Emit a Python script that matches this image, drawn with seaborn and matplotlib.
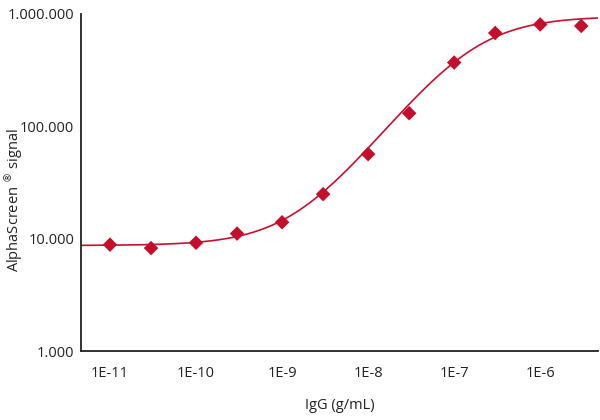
import numpy as np
import pandas as pd
import matplotlib
matplotlib.use("Agg")
import matplotlib.pyplot as plt
import matplotlib.ticker as mticker
import seaborn as sns

# Data
conc = [1e-11, 3e-11, 1e-10, 3e-10, 1e-9, 3e-9, 1e-8, 3e-8, 1e-7, 3e-7, 1e-6, 3e-6]
signal = [8850, 8250, 9200, 11100, 14000, 24900, 56500, 130600, 369000, 676000, 805000, 781000]

# 4-parameter logistic fit parameters (estimated from the drawn curve)
fit_bottom = 8700
fit_top = 950000
fit_ec50 = 1.6e-7
fit_hill = 1.0

x_ticks = [1e-11, 1e-10, 1e-9, 1e-8, 1e-7, 1e-6]
x_tick_labels = ["1E-11", "1E-10", "1E-9", "1E-8", "1E-7", "1E-6"]
y_ticks = [1e3, 1e4, 1e5, 1e6]
y_tick_labels = ["1.000", "10.000", "100.000", "1.000.000"]

x_min, x_max = 10 ** -11.337, 10 ** -5.326
y_min, y_max = 1e3, 1e6

sns.set_style("white")
plt.rcParams["font.family"] = ["Open Sans", "DejaVu Sans"]

red = "#C8102E"
txt = "#222222"

df_pts = pd.DataFrame({"conc": conc, "signal": signal})
xf = np.logspace(np.log10(x_min), np.log10(x_max), 300)
yf = fit_bottom + (fit_top - fit_bottom) / (1 + (fit_ec50 / xf) ** fit_hill)
df_fit = pd.DataFrame({"conc": xf, "signal": yf})

fig = plt.figure(figsize=(6, 4.2), dpi=100)
ax = fig.add_axes([0.135, 0.164, 0.862, 0.803])

sns.lineplot(data=df_fit, x="conc", y="signal", ax=ax, color=red, lw=1.2)
sns.scatterplot(data=df_pts, x="conc", y="signal", ax=ax, marker="D", s=55,
                color="#C30F2C", edgecolor="none", zorder=3)

ax.set_xscale("log")
ax.set_yscale("log")
ax.set_xlim(x_min, x_max)
ax.set_ylim(y_min, y_max)

ax.xaxis.set_major_locator(mticker.FixedLocator(x_ticks))
ax.xaxis.set_major_formatter(mticker.FixedFormatter(x_tick_labels))
ax.xaxis.set_minor_locator(mticker.NullLocator())
ax.yaxis.set_major_locator(mticker.FixedLocator(y_ticks))
ax.yaxis.set_major_formatter(mticker.FixedFormatter(y_tick_labels))
ax.yaxis.set_minor_locator(mticker.NullLocator())

for s in ["top", "right"]:
    ax.spines[s].set_visible(False)
for s in ["left", "bottom"]:
    ax.spines[s].set_color("#222222")
    ax.spines[s].set_linewidth(1.3)

ax.tick_params(axis="both", which="major", length=3, width=1, color="#222222",
               labelsize=10.5, labelcolor=txt, direction="out")
ax.tick_params(axis="x", pad=8)
ax.tick_params(axis="y", pad=2)

ax.set_xlabel("IgG (g/mL)", fontsize=10.5, color=txt, labelpad=12)
ax.set_ylabel("")
fig.text(2 / 600, 1 - 200 / 420, "AlphaScreen $^{\u00ae}$ signal", rotation=90,
         ha="left", va="center", fontsize=10.5, color=txt)

fig.savefig("out.png", dpi=100)
